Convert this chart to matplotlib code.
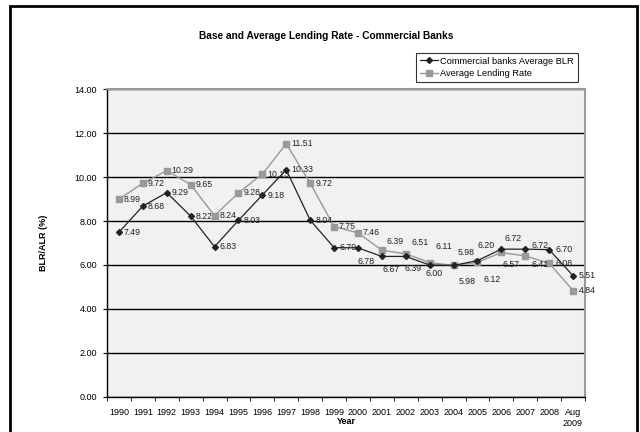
import matplotlib.pyplot as plt
from matplotlib.patches import Rectangle

plt.rcParams['font.family'] = ['Liberation Sans', 'DejaVu Sans']

years = ['1990', '1991', '1992', '1993', '1994', '1995', '1996', '1997',
         '1998', '1999', '2000', '2001', '2002', '2003', '2004', '2005',
         '2006', '2007', '2008', 'Aug\n2009']
blr = [7.49, 8.68, 9.29, 8.22, 6.83, 8.03, 9.18, 10.33, 8.04, 6.79,
       6.78, 6.39, 6.39, 6.00, 5.98, 6.20, 6.72, 6.72, 6.70, 5.51]
alr = [8.99, 9.72, 10.29, 9.65, 8.24, 9.28, 10.13, 11.51, 9.72, 7.75,
       7.46, 6.67, 6.51, 6.11, 5.98, 6.12, 6.57, 6.41, 6.08, 4.84]
y_ticks = [0, 2, 4, 6, 8, 10, 12, 14]

# label offsets in pixels, so the crowded values after 2000 stay readable
blr_offsets = [(5, 0)] * 10 + [(0, -14), (5, 15), (-1, -12), (-4, -9),
                               (4, 13), (0, 15), (3, 11), (6, 4), (6, 0), (6, 0)]
alr_offsets = [(5, 0)] * 11 + [(1, -19), (6, 11), (6, 16), (5, -16),
                               (6, -17), (1, -12), (6, -9), (6, 0), (6, 0)]


def main():
    fig = plt.figure(figsize=(6.4, 4.32), dpi=100)
    fig.patch.set_facecolor('white')

    # outer frame of the chart sheet
    fig.add_artist(Rectangle((10 / 640, -0.1), 627 / 640, 1.1 - 6 / 432,
                             transform=fig.transFigure, fill=False,
                             edgecolor='black', linewidth=2))

    ax = fig.add_axes([107 / 640, 35 / 432, 478 / 640, 308 / 432])
    ax.set_facecolor('#f1f1f1')
    x = list(range(len(years)))

    ax.plot(x, alr, color='#999999', linewidth=1, marker='s', markersize=4.5,
            label='Average Lending Rate', zorder=3)
    ax.plot(x, blr, color='#222222', linewidth=0.9, marker='D', markersize=3,
            label='Commercial banks Average BLR', zorder=4)

    for i, v in enumerate(alr):
        ax.annotate(f'{v:.2f}', (i, v), xytext=alr_offsets[i],
                    textcoords='offset pixels', ha='left', va='center',
                    fontsize=6.3, color='#222222', zorder=5)
    for i, v in enumerate(blr):
        ax.annotate(f'{v:.2f}', (i, v), xytext=blr_offsets[i],
                    textcoords='offset pixels', ha='left', va='center',
                    fontsize=6.3, color='#222222', zorder=5)

    ax.set_xlim(-0.5, len(years) - 0.5)
    ax.set_ylim(0, 14)
    ax.set_yticks(y_ticks)
    ax.set_yticklabels([f'{t:.2f}' for t in y_ticks], fontsize=6.5)
    ax.yaxis.grid(True, color='black', linewidth=1)
    ax.set_axisbelow(True)

    ax.set_xticks(x)
    ax.set_xticklabels(years, fontsize=6.5)
    ax.set_xticks([i - 0.5 for i in range(len(years) + 1)], minor=True)
    ax.tick_params(axis='x', which='major', length=0, pad=8)
    ax.tick_params(axis='x', which='minor', length=3, direction='out')
    ax.tick_params(axis='y', length=3, pad=4)

    for side in ['top', 'right']:
        ax.spines[side].set_color('#999999')
        ax.spines[side].set_linewidth(1.5)
    ax.spines['left'].set_linewidth(1)
    ax.spines['bottom'].set_linewidth(1)

    # axis titles sit between the tick labels and the sheet frame
    fig.text(346 / 640, 1 - 421 / 432, 'Year', ha='center', va='center',
             fontsize=6.5, fontweight='bold')
    fig.text(43 / 640, 1 - 243 / 432, 'BLR/ALR (%)', ha='center',
             va='center', rotation=90, fontsize=6.5, fontweight='bold')

    fig.text(326 / 640, 1 - 36 / 432,
             'Base and Average Lending Rate - Commercial Banks',
             ha='center', va='center', fontsize=7.3, fontweight='bold')

    handles, labels = ax.get_legend_handles_labels()
    leg = fig.legend(handles[::-1], labels[::-1], loc='upper left',
                     bbox_to_anchor=(416 / 640, 1 - 53 / 432), fontsize=6.7,
                     frameon=True, fancybox=False, edgecolor='black',
                     handlelength=2, handletextpad=0.2, borderpad=0.4,
                     labelspacing=0.35, borderaxespad=0)
    leg.get_frame().set_linewidth(0.8)

    fig.savefig('out.png', dpi=100)


if __name__ == '__main__':
    main()
